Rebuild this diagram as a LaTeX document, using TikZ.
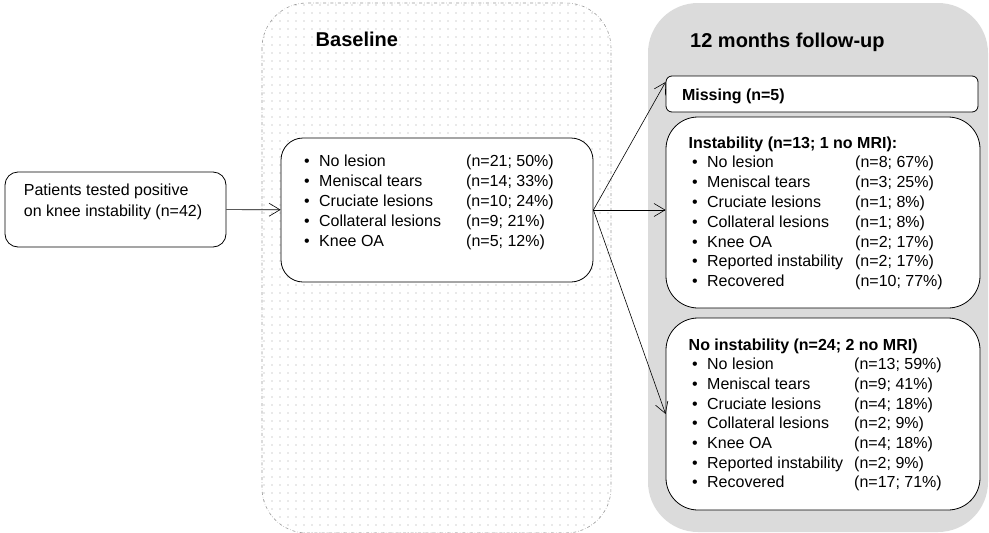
\documentclass[tikz,border=0pt]{standalone}
\usepackage{fontspec}
\setmainfont{Liberation Sans}
\usetikzlibrary{arrows.meta, patterns.meta}

\begin{document}
\begin{tikzpicture}[x=1pt, y=-1pt, >={Straight Barb[length=11pt,width=13pt]},
    box/.style={draw, line width=0.8pt, rounded corners=#1, fill=white, inner sep=0pt},
    lst/.style={anchor=base west, inner sep=0pt, font=\fontsize{16}{20}\selectfont},
    ttl/.style={anchor=base west, inner sep=0pt, font=\fontsize{20}{24}\selectfont\bfseries},
    link/.style={->, line width=0.6pt}]

            \useasboundingbox (0,0) rectangle (989,533);

            % the two time panels
            \path[draw=gray!80, dash dot, line width=0.6pt, rounded corners=45pt,
                  pattern={Dots[distance=8pt,radius=0.65pt]}, pattern color=gray!75] (262,3) rectangle (611,533);
            \path[fill=gray!28, rounded corners=50pt] (648,3) rectangle (988,532);

            \node[ttl] (basettl) at (315.5,46) {Baseline};
            \node[ttl] (follttl) at (690,47) {12 months follow-up};

            % boxes
            \node[box=13pt, minimum width=221pt, minimum height=75pt] (pat) at (115.5,209.5) {};
            \node[box=22pt, minimum width=312pt, minimum height=144pt] (base) at (437,210) {};
            \node[box=6pt, minimum width=312pt, minimum height=36pt] (miss) at (822,94) {};
            \node[box=32pt, minimum width=314pt, minimum height=191pt] (inst) at (823,212.5) {};
            \node[box=32pt, minimum width=314pt, minimum height=192pt] (noinst) at (823,414) {};

            % texts
            \node[lst, font=\fontsize{16}{21.5}\selectfont] (pattxt) at (23.7,195) {%
                \begin{tabular}[t]{@{}l@{}}
                Patients tested positive\\
                on knee instability (n=42)
                \end{tabular}};

            \node[lst] (basetxt) at (304,166) {%
                \begin{tabular}[t]{@{}p{15pt}@{}p{147pt}@{}l@{}}
                \textbullet & No lesion & (n=21; 50\%)\\
                \textbullet & Meniscal tears & (n=14; 33\%)\\
                \textbullet & Cruciate lesions & (n=10; 24\%)\\
                \textbullet & Collateral lesions & (n=9; 21\%)\\
                \textbullet & Knee OA & (n=5; 12\%)
                \end{tabular}};

            \node[lst, font=\fontsize{16}{20}\selectfont\bfseries] (misstxt) at (681.8,100) {Missing (n=5)};

            \node[lst, font=\fontsize{16}{19.8}\selectfont] (insttxt) at (692,148) {%
                \begin{tabular}[t]{@{}p{15pt}@{}p{148pt}@{}l@{}}
                \multicolumn{3}{@{\hspace{-3.5pt}}l@{}}{\bfseries Instability (n=13; 1 no MRI):}\\
                \textbullet & No lesion & (n=8; 67\%)\\
                \textbullet & Meniscal tears & (n=3; 25\%)\\
                \textbullet & Cruciate lesions & (n=1; 8\%)\\
                \textbullet & Collateral lesions & (n=1; 8\%)\\
                \textbullet & Knee OA & (n=2; 17\%)\\
                \textbullet & Reported instability & (n=2; 17\%)\\
                \textbullet & Recovered & (n=10; 77\%)
                \end{tabular}};

            \node[lst, font=\fontsize{16}{19.7}\selectfont] (noinsttxt) at (692,350) {%
                \begin{tabular}[t]{@{}p{15pt}@{}p{147pt}@{}l@{}}
                \multicolumn{3}{@{\hspace{-3.5pt}}l@{}}{\bfseries No instability (n=24; 2 no MRI)}\\
                \textbullet & No lesion & (n=13; 59\%)\\
                \textbullet & Meniscal tears & (n=9; 41\%)\\
                \textbullet & Cruciate lesions & (n=4; 18\%)\\
                \textbullet & Collateral lesions & (n=2; 9\%)\\
                \textbullet & Knee OA & (n=4; 18\%)\\
                \textbullet & Reported instability & (n=2; 9\%)\\
                \textbullet & Recovered & (n=17; 71\%)
                \end{tabular}};

            % Connections: patients to baseline to follow-up
            \draw[link] (pat) -- (base);
            \draw[link] (base.east) -- ([yshift=12pt]miss.west);
            \draw[link] (base.east) -- (base.east -| inst.west);
            \draw[link] (base.east) -- (noinst.west);

        \end{tikzpicture}
\end{document}
